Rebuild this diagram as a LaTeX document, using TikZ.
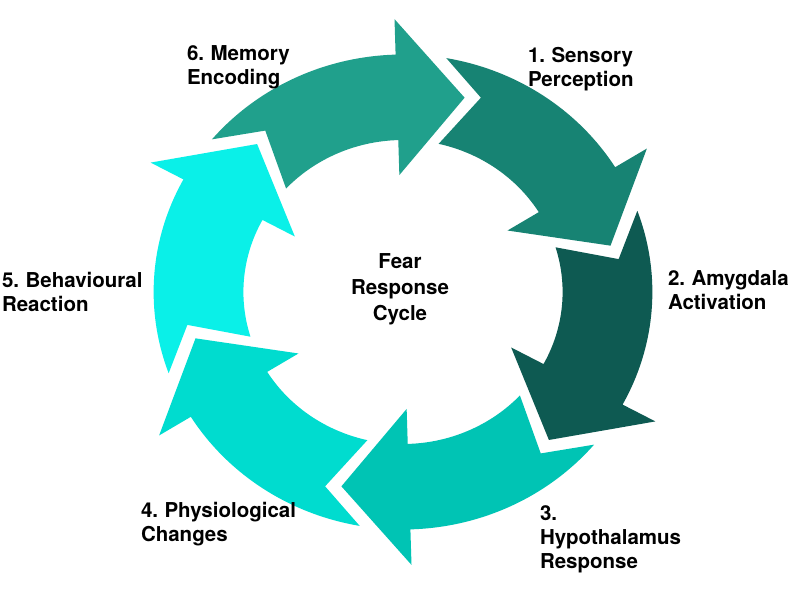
\documentclass[tikz,border=0pt]{standalone}
\usepackage{fontspec}
\setmainfont{TeX Gyre Heros}[WordSpace=0.8]
\definecolor{cA}{HTML}{178373}
\definecolor{cB}{HTML}{0E5A52}
\definecolor{cC}{HTML}{00C4B4}
\definecolor{cD}{HTML}{00DCCF}
\definecolor{cE}{HTML}{0AF0E8}
\definecolor{cF}{HTML}{20A08C}
\tikzset{
  lbl/.style={inner sep=0pt, outer sep=0pt, font=\bfseries\fontsize{20.5bp}{24bp}\selectfont, align=left, anchor=base west, text=black},
  ctr/.style={inner sep=0pt, outer sep=0pt, font=\bfseries\fontsize{20.5bp}{26bp}\selectfont, align=center, anchor=base, text=black}
}
\begin{document}
\begin{tikzpicture}[x=1bp,y=-1bp]
\useasboundingbox[fill=white] (0,0) rectangle (796,604);
\begin{scope}[shift={(403,292)}]
\begin{scope}[x=1.05bp,y=1bp]
\foreach \b/\c in {31.7/cA,-28.3/cB,-88.3/cC,-148.3/cD,151.7/cE,91.7/cF}{
  \fill[\c] plot[domain=\b+48.3:\b, samples=40] (\x:237.5)
     -- (\b:273) -- (\b-18.5:203) -- (\b:117) -- (\b:152)
     -- plot[domain=\b:\b+45.4, samples=40] (\x:152)
     -- (\b+37.4:208) -- cycle;
}
\end{scope}
\end{scope}
\node[ctr] (center) at (400,320) {Fear\\Response\\Cycle};
\node[lbl] (l1) at (528,87) {1. Sensory\\Perception};
\node[lbl] (l2) at (668,309) {2. Amygdala\\Activation};
\node[lbl] (l3) at (540,568) {3.\\Hypothalamus\\Response};
\node[lbl] (l4) at (141,541) {4. Physiological\\Changes};
\node[lbl] (l5) at (2,311) {5. Behavioural\\Reaction};
\node[lbl] (l6) at (187,85) {6. Memory\\Encoding};
\end{tikzpicture}
\end{document}
